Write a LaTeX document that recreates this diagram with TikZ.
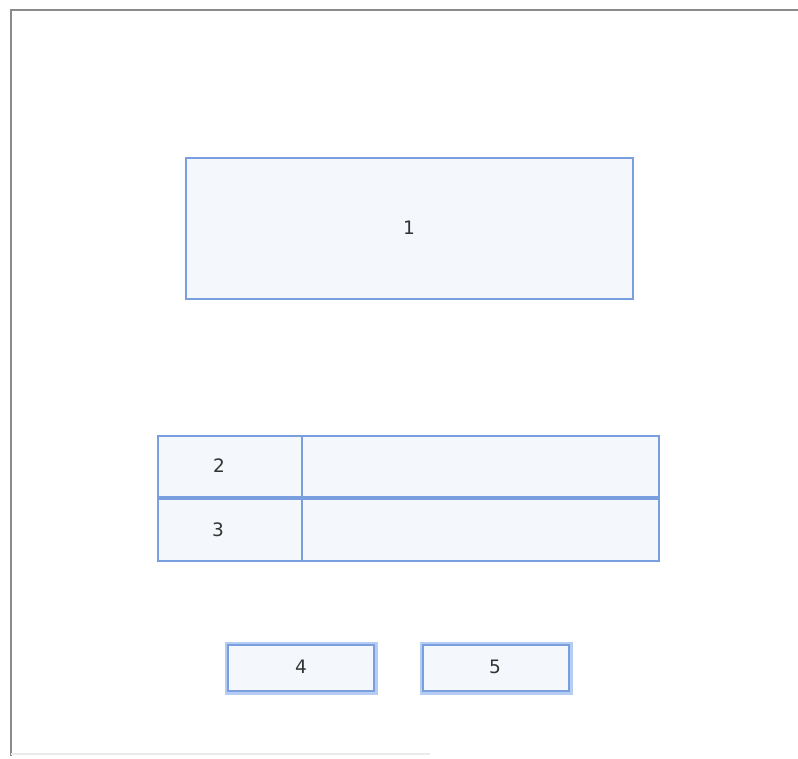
\documentclass[tikz,border=0pt]{standalone}
\usepackage{fontspec}
\setmainfont{DejaVu Sans}
\definecolor{boxline}{HTML}{7A9FDF}
\definecolor{boxfill}{HTML}{F4F7FB}
\definecolor{glow}{HTML}{B5CDF2}
\definecolor{frameline}{HTML}{8A8A8A}
\tikzset{
  panel/.style={draw=boxline, line width=1.6pt, fill=boxfill},
  btn/.style={draw=boxline, line width=1.8pt, fill=boxfill},
  btnglow/.style={draw=glow, line width=7pt},
  lbl/.style={font=\fontsize{18.5}{18.5}\selectfont, text=black!80}
}
\begin{document}
\begin{tikzpicture}[x=1pt,y=-1pt]
\useasboundingbox (0,0) rectangle (798,759);
% frame
\draw[frameline, line width=1.8pt] (798,10) -- (11,10) -- (11,756);
\draw[black!8, line width=1.5pt] (11,754) -- (430,754);
% box 1
\draw[panel] (186,158) rectangle (633,299);
\node[lbl] (n1) at (409,228) {1};
% rows
\draw[panel] (158,436) rectangle (659,497);
\draw[panel] (158,499) rectangle (659,561);
\draw[boxline, line width=1.6pt] (302,436) -- (302,561);
\node[lbl] (n2) at (219,466) {2};
\node[lbl] (n3) at (218,530) {3};
% buttons
\draw[btnglow] (228,645) rectangle (374,691);
\draw[btn] (228,645) rectangle (374,691);
\node[lbl] (n4) at (301,667) {4};
\draw[btnglow] (423,645) rectangle (569,691);
\draw[btn] (423,645) rectangle (569,691);
\node[lbl] (n5) at (495,667) {5};
\end{tikzpicture}
\end{document}
